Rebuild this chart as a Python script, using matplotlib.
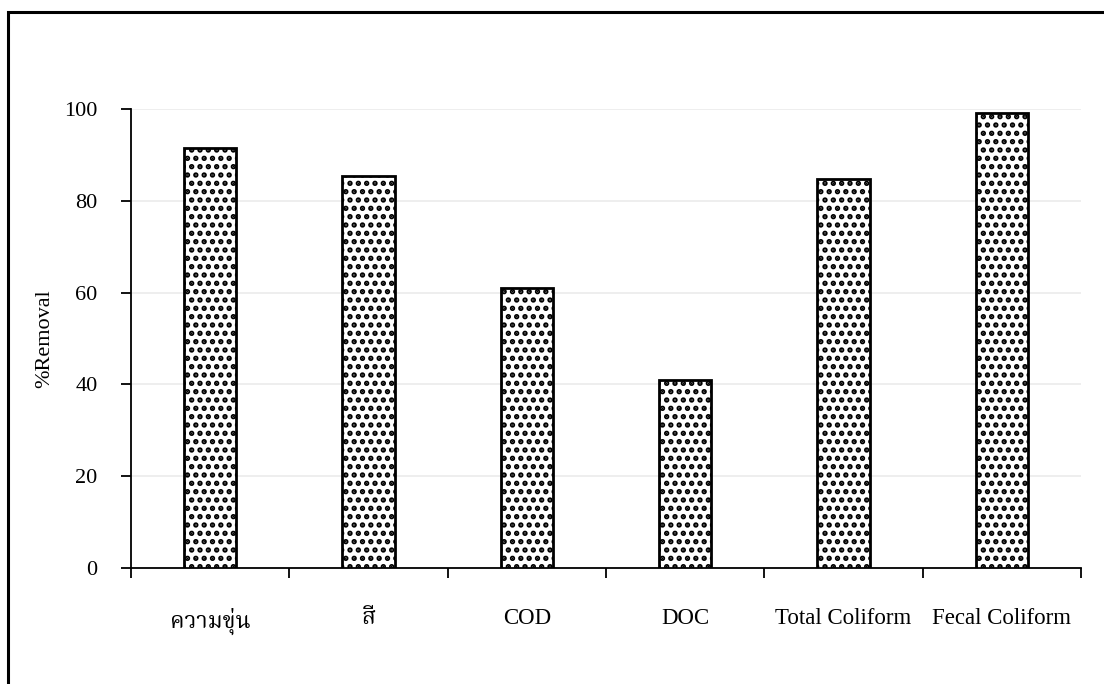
import matplotlib
matplotlib.use("Agg")
import matplotlib.pyplot as plt
from matplotlib.patches import Rectangle
import numpy as np

# %removal per parameter
categories = ['ความขุ่น', 'สี', 'COD', 'DOC', 'Total Coliform', 'Fecal Coliform']
removal = [91.6, 85.5, 61.1, 40.9, 84.7, 99.1]
yticks = [0, 20, 40, 60, 80, 100]

plt.rcParams['font.family'] = ['Liberation Serif', 'Noto Serif Thai', 'DejaVu Sans']
plt.rcParams['hatch.linewidth'] = 2.6

fig = plt.figure(figsize=(11.04, 6.84), dpi=100, facecolor='white')
# outer chart frame (cut off at right and bottom, as in the original)
fig.patches.append(Rectangle((8/1104, -0.05), 1.2, 1 - 12/684 + 0.05, transform=fig.transFigure,
                             fill=False, edgecolor='black', linewidth=2.2))

ax = fig.add_axes([131/1104, 1 - 568/684, 950/1104, 459/684])
x = np.arange(len(categories))
ax.bar(x, removal, width=0.33, color='white', edgecolor='black', linewidth=2.0,
       hatch='..', zorder=3)

ax.set_xlim(-0.5, len(categories) - 0.5)
ax.set_ylim(0, 100)
ax.set_yticks(yticks)
ax.set_yticklabels([str(v) for v in yticks], fontsize=16)
ax.yaxis.grid(True, color='#ebebeb', linewidth=1.2, zorder=0)
ax.tick_params(axis='y', direction='out', length=7, width=1.3, pad=17)

ax.set_xticks(np.arange(-0.5, len(categories), 1.0))
ax.set_xticklabels([])
ax.set_xticks(x, minor=True)
ax.set_xticklabels(categories, minor=True, fontsize=16.5)
ax.tick_params(axis='x', which='major', direction='out', length=7, width=1.3)
ax.tick_params(axis='x', which='minor', length=0, pad=29)

for s in ['top', 'right']:
    ax.spines[s].set_visible(False)
ax.spines['left'].set_linewidth(1.3)
ax.spines['bottom'].set_linewidth(1.3)

ax.set_ylabel('%Removal', fontsize=16, labelpad=7)

fig.savefig('out.png', dpi=100)
